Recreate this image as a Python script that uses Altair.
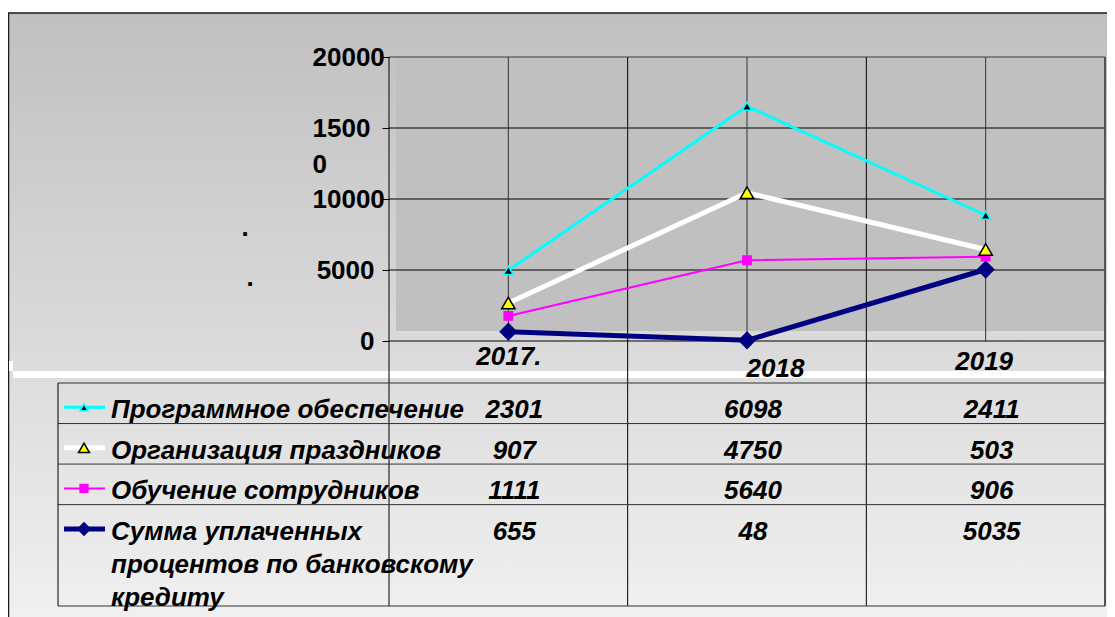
import json
import numpy as np
import pandas as pd
import altair as alt

# ---------------- data ----------------
years = ["2017.", "2018", "2019"]
series = ["Программное обеспечение", "Организация праздников",
          "Обучение сотрудников", "Сумма уплаченных процентов по банковскому кредиту"]
table_labels = ["Программное обеспечение", "Организация праздников",
                "Обучение сотрудников", "Сумма уплаченных\nпроцентов по банковскому\nкредиту"]
software = [2301, 6098, 2411]
holidays = [907, 4750, 503]
training = [1111, 5640, 906]
interest = [655, 48, 5035]
y_ticks = [0, 5000, 10000, 15000, 20000]

values = [software, holidays, training, interest]  # table order, top to bottom

# ---------------- styles / layout ----------------
FONT = "Liberation Sans"
FS = 26
W, H = 716, 284
PAD = {"left": 381, "top": 49, "right": 2, "bottom": 276}
FRAME_X, FRAME_Y = -381, -44
TABLE_TOP, TABLE_BOTTOM, TABLE_LEFT = 326, 549, -331
LEG_X1, LEG_X2, LEG_MX, LABEL_X = -325, -284, -305, -278

styles = [
    dict(color="#00FFFF", width=3, shape="triangle-up", fill="black", stroke="#00FFFF", size=90, lsize=60),
    dict(color="#FFFFFF", width=5, shape="triangle-up", fill="#FFFF00", stroke="black", size=180, lsize=120),
    dict(color="#FF00FF", width=2, shape="square", fill="#FF00FF", stroke="#FF00FF", size=70, lsize=60),
    dict(color="#000080", width=5, shape="diamond", fill="#000080", stroke="#000080", size=260, lsize=150),
]

# stacked (cumulative) values: bottom = last series
cum = {}
running = np.zeros(len(years))
for i in reversed(range(len(values))):
    running = running + np.array(values[i], dtype=float)
    cum[i] = running.copy()

xaxis = alt.Axis(
    values=list(range(len(years))), title=None, domain=False, grid=False,
    ticks=False, tickSize=0,
    labelExpr="%s[datum.value]" % json.dumps(years),
    labelFont=FONT, labelFontSize=FS, labelFontWeight="bold", labelFontStyle="italic",
    labelColor="black", labelBaseline="middle", labelAlign="center",
    labelPadding={"condition": [{"test": "datum.value == 1", "value": 27},
                                {"test": "datum.value == 2", "value": 20}], "value": 15},
    labelOffset={"condition": [{"test": "datum.value == 1", "value": 28},
                               {"test": "datum.value == 2", "value": -2}], "value": 0},
    labelOverlap=False, labelFlush=False, labelBound=False, zindex=1,
)
yaxis = alt.Axis(
    values=y_ticks, title=None, domain=False, grid=False, format="d",
    ticks=True, tickSize=7, tickColor="black", tickWidth=1,
    labelFont=FONT, labelFontSize=FS, labelFontWeight="bold", labelColor="black",
    labelExpr="datum.value == 15000 ? [substring(datum.label, 0, 4), substring(datum.label, 4)] : datum.label",
    labelAlign={"condition": {"test": "datum.value >= 10000", "value": "left"}, "value": "right"},
    labelPadding={"condition": {"test": "datum.value >= 10000", "value": 70}, "value": 8},
    labelBaseline="middle", labelLineHeight=36,
    labelOverlap=False, labelFlush=False, labelBound=False, zindex=1,
)

xscale = alt.Scale(domain=[-0.5, len(years) - 0.5], nice=False, zero=False)
yscale = alt.Scale(domain=[y_ticks[0], y_ticks[-1]], nice=False, zero=False)

n_lines = [t.count("\n") + 1 for t in table_labels]
row_units = [1 + 0.75 * (n - 1) for n in n_lines]
bounds = np.concatenate([[0.0], np.cumsum(row_units)])
row_tops = bounds[:-1]
tscale = alt.Scale(domain=[0, float(bounds[-1])], range=[TABLE_TOP, TABLE_BOTTOM], nice=False, zero=False)
TEXT_DY, SYM_DY = 0.35, 0.6


def X(f):
    return alt.X(f"{f}:Q", scale=xscale, axis=xaxis)


def Y(f):
    return alt.Y(f"{f}:Q", scale=yscale, axis=yaxis)


def T(f):
    return alt.Y(f"{f}:Q", scale=tscale, axis=None)


one = pd.DataFrame({"k": [0]})
grad = {"gradient": "linear", "x1": 0, "x2": 0, "y1": 0, "y2": 1,
        "stops": [{"offset": 0, "color": "#c0c0c0"}, {"offset": 1, "color": "#f2f2f2"}]}

bg = alt.Chart(one).mark_rect(fill=grad, stroke="#1a1a1a", strokeWidth=1.5).encode(
    x=alt.value(FRAME_X + 0.5), x2=alt.value(W + 30), y=alt.value(FRAME_Y), y2=alt.value(H + 300))
inner = alt.Chart(one).mark_rect(fill="#c0c0c0").encode(
    x=alt.value(7), x2=alt.value(W), y=alt.value(0), y2=alt.value(H - 10))
strip1 = alt.Chart(one).mark_rect(fill="white").encode(
    x=alt.value(-376), x2=alt.value(W), y=alt.value(314), y2=alt.value(321))
strip2 = alt.Chart(one).mark_rect(fill="white").encode(
    x=alt.value(FRAME_X + 1), x2=alt.value(-376), y=alt.value(304), y2=alt.value(314))
dot1 = alt.Chart(one).mark_text(text=".", font=FONT, fontSize=FS, fontWeight="bold",
                                align="center", baseline="alphabetic", color="black").encode(
    x=alt.value(-144), y=alt.value(179))
dot2 = alt.Chart(one).mark_text(text=".", font=FONT, fontSize=FS, fontWeight="bold",
                                align="center", baseline="alphabetic", color="black").encode(
    x=alt.value(-139), y=alt.value(229))

ygrid = alt.Chart(pd.DataFrame({"v": y_ticks[:-1]})).mark_rule(color="black", strokeWidth=1).encode(
    y=Y("v"), x=alt.value(0), x2=alt.value(W))
ytop = alt.Chart(pd.DataFrame({"v": y_ticks[-1:]})).mark_rule(color="#7f7f7f", strokeWidth=2).encode(
    y=Y("v"), x=alt.value(0), x2=alt.value(W))
vcent = alt.Chart(pd.DataFrame({"c": list(range(len(years)))})).mark_rule(color="#333333", strokeWidth=1).encode(
    x=X("c"), y=alt.value(0), y2=alt.value(H))
edges = [j - 0.5 for j in range(len(years))]
vedge = alt.Chart(pd.DataFrame({"e": edges})).mark_rule(color="black", strokeWidth=1).encode(
    x=X("e"), y=alt.value(0), y2=alt.value(TABLE_BOTTOM))
vright = alt.Chart(pd.DataFrame({"e": [len(years) - 0.5]})).mark_rule(color="#555555", strokeWidth=2).encode(
    x=X("e"), y=alt.value(0), y2=alt.value(TABLE_BOTTOM))

line_layers, point_layers = [], []
for i, name in enumerate(series):
    st = styles[i]
    df = pd.DataFrame({"xi": list(range(len(years))), "cum": cum[i], "series": name})
    line_layers.append(alt.Chart(df).mark_line(color=st["color"], strokeWidth=st["width"]).encode(
        x=X("xi"), y=Y("cum")))
    point_layers.append(alt.Chart(df).mark_point(
        shape=st["shape"], filled=True, fill=st["fill"], stroke=st["stroke"], strokeWidth=1.5,
        size=st["size"], opacity=1).encode(x=X("xi"), y=Y("cum")))

main = alt.layer(bg, inner, strip1, strip2, dot1, dot2, ygrid, ytop, vcent, vedge, vright,
                 *line_layers[::-1], *point_layers[::-1])

# ---------------- data table ----------------
hl = alt.Chart(pd.DataFrame({"b": bounds})).mark_rule(color="#333333", strokeWidth=1).encode(
    y=T("b"), x=alt.value(TABLE_LEFT), x2=alt.value(W))
tleft = alt.Chart(one).mark_rule(color="black", strokeWidth=1).encode(
    x=alt.value(TABLE_LEFT), y=alt.value(TABLE_TOP), y2=alt.value(TABLE_BOTTOM))

lab_df = pd.DataFrame({"label": table_labels, "ty": row_tops + TEXT_DY})
labels = alt.Chart(lab_df).mark_text(
    align="left", baseline="top", font=FONT, fontSize=FS, fontWeight="bold", fontStyle="italic",
    lineBreak="\n", lineHeight=33, color="black").encode(
    x=alt.value(LABEL_X), y=T("ty"), text="label:N")

rows = []
for i in range(len(series)):
    for j in range(len(years)):
        rows.append({"xi": j, "ty": row_tops[i] + TEXT_DY, "val": values[i][j]})
nums = alt.Chart(pd.DataFrame(rows)).mark_text(
    align="center", baseline="top", dx=6, font=FONT, fontSize=FS, fontWeight="bold",
    fontStyle="italic", color="black").encode(
    x=X("xi"), y=T("ty"), text=alt.Text("val:Q", format="d"))

leg_layers = []
for i in range(len(series)):
    st = styles[i]
    ldf = pd.DataFrame({"sy": [row_tops[i] + SYM_DY]})
    leg_layers.append(alt.Chart(ldf).mark_rule(color=st["color"], strokeWidth=st["width"]).encode(
        x=alt.value(LEG_X1), x2=alt.value(LEG_X2), y=T("sy")))
    leg_layers.append(alt.Chart(ldf).mark_point(
        shape=st["shape"], filled=True, fill=st["fill"], stroke=st["stroke"], strokeWidth=1.5,
        size=st["lsize"], opacity=1).encode(x=alt.value(LEG_MX), y=T("sy")))

table = alt.layer(hl, tleft, labels, nums, *leg_layers)

chart = alt.layer(main, table).resolve_scale(y="independent").properties(
    width=W, height=H, padding=PAD, autosize=alt.AutoSizeParams(type="none"),
    background="white",
).configure_view(stroke=None)

chart.save("out.html", embed_options={"renderer": "svg", "actions": False})
